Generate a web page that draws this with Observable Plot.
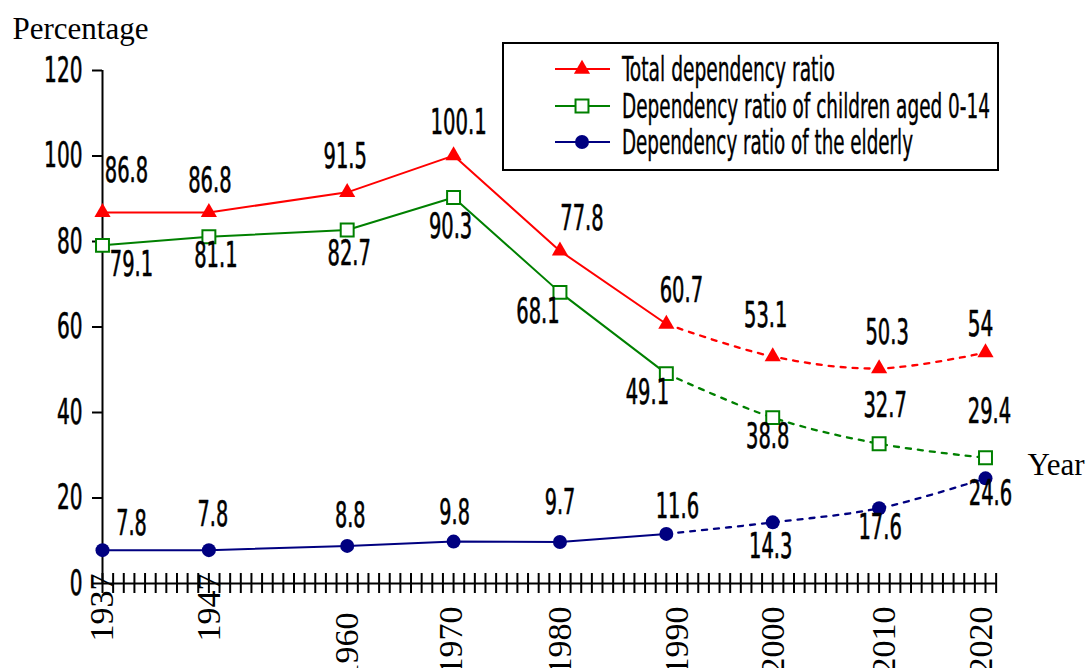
<!DOCTYPE html>
<html><head><meta charset="utf-8">
<script src="https://cdn.jsdelivr.net/npm/d3@7"></script>
<script src="https://cdn.jsdelivr.net/npm/@observablehq/plot@0.6"></script>
<style>
body{margin:0;background:#fff;}
#wrap{position:relative;width:1088px;height:668px;overflow:hidden;background:#fff;}
#legend{position:absolute;left:0;top:0;pointer-events:none;}
</style></head><body><div id="wrap"></div>
<script>
// ---------- data ----------
const years = [1937, 1947, 1960, 1970, 1980, 1990, 2000, 2010, 2020];
const totalRatio = [86.8, 86.8, 91.5, 100.1, 77.8, 60.7, 53.1, 50.3, 54];
const childRatio = [79.1, 81.1, 82.7, 90.3, 68.1, 49.1, 38.8, 32.7, 29.4];
const elderRatio = [7.8, 7.8, 8.8, 9.8, 9.7, 11.6, 14.3, 17.6, 24.6];
const seriesNames = ["Total dependency ratio", "Dependency ratio of children aged 0-14", "Dependency ratio of the elderly"];
const yTicks = [0, 20, 40, 60, 80, 100, 120];
const xTickLabels = ["1937", "1947", "1960", "1970", "1980", "1990", "2000", "2010", "2020"];
const minorYears = d3.range(1937, 2022);
const projectionStart = 1990;

// ---------- layout (pixel offsets for labels) ----------
const labelOffsets = {
  total: [[24,-42],[1,-32],[-2,-36],[5,-33],[22,-32],[15,-33],[-7,-41],[8,-36],[-5,-28]],
  child: [[29,19],[7,19],[2,24],[-3,29],[-22,19],[-19,19],[-5,19],[6,-38],[4,-46]],
  elder: [[29,-26],[4,-35],[3,-30],[1,-29],[0,-39],[11,-27],[-2,24],[1,20],[5,15]]
};
const xLabelShift = [[0,-10],[0,-10],[0,29],[-2,23],[0,23],[11,23],[0,23],[5,23],[-4,23]];
const DIGIT_W = 12.8, DOT_W = 5;

const NARROW = "'Liberation Sans Narrow', 'Arial Narrow', 'DejaVu Sans Condensed', sans-serif";
const SERIF = "'Liberation Serif', 'Times New Roman', serif";

const series = [
  {key: "total", name: seriesNames[0], values: totalRatio, color: "#ff0000", symbol: "triangle", fill: "#ff0000", r: 6},
  {key: "child", name: seriesNames[1], values: childRatio, color: "#008000", symbol: "square", fill: "#ffffff", r: 7.3},
  {key: "elder", name: seriesNames[2], values: elderRatio, color: "#000080", symbol: "circle", fill: "#000080", r: 7}
];

const marks = [];
// axes
marks.push(Plot.ruleX([years[0]], {stroke: "#000", strokeWidth: 2}));
marks.push(Plot.ruleY([0], {x1: years[0], x2: minorYears[minorYears.length - 1], stroke: "#000", strokeWidth: 2}));
marks.push(Plot.ruleX(minorYears, {x: d => d, y1: 0, y2: 0, insetTop: -10, insetBottom: -10, stroke: "#000", strokeWidth: 2}));
marks.push(Plot.ruleY(yTicks, {y: d => d, x1: years[0], x2: years[0], insetLeft: -10, stroke: "#000", strokeWidth: 2}));
marks.push(Plot.text(yTicks, {y: d => d, frameAnchor: "left", text: d => String(d), textAnchor: "end", dx: -20,
  fontFamily: NARROW, fontSize: 35, fill: "#000", stroke: "#000", strokeWidth: 0.6}));
xTickLabels.forEach((lab, i) => {
  marks.push(Plot.text([years[i]], {x: d => d, y: 0, text: () => lab, rotate: -90, textAnchor: "end",
    dx: xLabelShift[i][0], dy: xLabelShift[i][1], fontFamily: SERIF, fontSize: 34, fill: "#000"}));
});

// lines
series.forEach(s => {
  const rows = years.map((yr, i) => ({year: yr, value: s.values[i]}));
  marks.push(Plot.line(rows.filter(d => d.year <= projectionStart), {x: "year", y: "value", stroke: s.color, strokeWidth: 2}));
  marks.push(Plot.line(rows.filter(d => d.year >= projectionStart), {x: "year", y: "value", stroke: s.color, strokeWidth: 2.3,
    strokeDasharray: "5,7", curve: "catmull-rom"}));
});
// markers
series.forEach(s => {
  const rows = years.map((yr, i) => ({year: yr, value: s.values[i]}));
  marks.push(Plot.dot(rows, {x: "year", y: "value", symbol: s.symbol, r: s.r, fill: s.fill,
    stroke: s.color, strokeWidth: s.symbol === "square" ? 2 : 0}));
});
// value labels
series.forEach(s => {
  years.forEach((yr, i) => {
    const off = labelOffsets[s.key][i];
    marks.push(Plot.text([{year: yr, value: s.values[i]}], {x: "year", y: "value", text: d => String(d.value),
      dx: off[0], dy: off[1], fontFamily: NARROW, fontSize: 35, fill: "#000", stroke: "#000", strokeWidth: 0.6}));
  });
});
// axis titles
marks.push(Plot.text(["Percentage"], {frameAnchor: "top-left", text: d => d, textAnchor: "start", lineAnchor: "middle",
  dx: -90, dy: -41, fontFamily: SERIF, fontSize: 31, fill: "#000"}));
marks.push(Plot.text(["Year"], {frameAnchor: "bottom-right", text: d => d, textAnchor: "start", lineAnchor: "middle",
  dx: 42, dy: -118, fontFamily: SERIF, fontSize: 31, fill: "#000"}));

const plot = Plot.plot({
  width: 1088, height: 668,
  marginLeft: 102, marginRight: 103, marginTop: 70, marginBottom: 85,
  x: {domain: [1937, 2020], axis: null},
  y: {domain: [0, 120], axis: null},
  style: {background: "#fff", overflow: "visible"},
  marks
});
document.getElementById("wrap").appendChild(plot);
// condense the number labels (narrow font) to the reference's tight width
plot.querySelectorAll("text").forEach(el => {
  let p = el, fam = null;
  while (p && p !== plot && !fam) { fam = p.getAttribute && p.getAttribute("font-family"); p = p.parentNode; }
  const t = el.textContent;
  if (fam && fam.includes("Narrow") && /^[0-9.]+$/.test(t)) {
    let w = 0;
    for (const c of t) w += (c === "." ? DOT_W : DIGIT_W);
    el.setAttribute("textLength", w);
    el.setAttribute("lengthAdjust", "spacingAndGlyphs");
  }
});

// legend overlay
const lg = d3.select("#wrap").append("svg").attr("id", "legend").attr("width", 1088).attr("height", 668);
lg.append("rect").attr("x", 503).attr("y", 43).attr("width", 495).attr("height", 127)
  .attr("fill", "#fff").attr("stroke", "#000").attr("stroke-width", 2);
const rowY = [69, 106, 142];
const textW = [213, 368, 291];
series.forEach((s, i) => {
  const g = lg.append("g");
  g.append("line").attr("x1", 555).attr("x2", 610).attr("y1", rowY[i]).attr("y2", rowY[i])
    .attr("stroke", s.color).attr("stroke-width", 2);
  const sym = {triangle: d3.symbolTriangle, square: d3.symbolSquare, circle: d3.symbolCircle}[s.symbol];
  g.append("path").attr("transform", `translate(582,${rowY[i]})`)
    .attr("d", d3.symbol(sym, s.r * s.r * Math.PI)())
    .attr("fill", s.fill).attr("stroke", s.color).attr("stroke-width", s.symbol === "square" ? 2 : 0);
  g.append("text").attr("x", 622).attr("y", rowY[i]).attr("dy", "0.35em")
    .attr("font-family", NARROW).attr("font-size", 34).attr("fill", "#000")
    .attr("stroke", "#000").attr("stroke-width", 0.4)
    .attr("textLength", textW[i]).attr("lengthAdjust", "spacingAndGlyphs")
    .text(s.name);
});
</script></body></html>
